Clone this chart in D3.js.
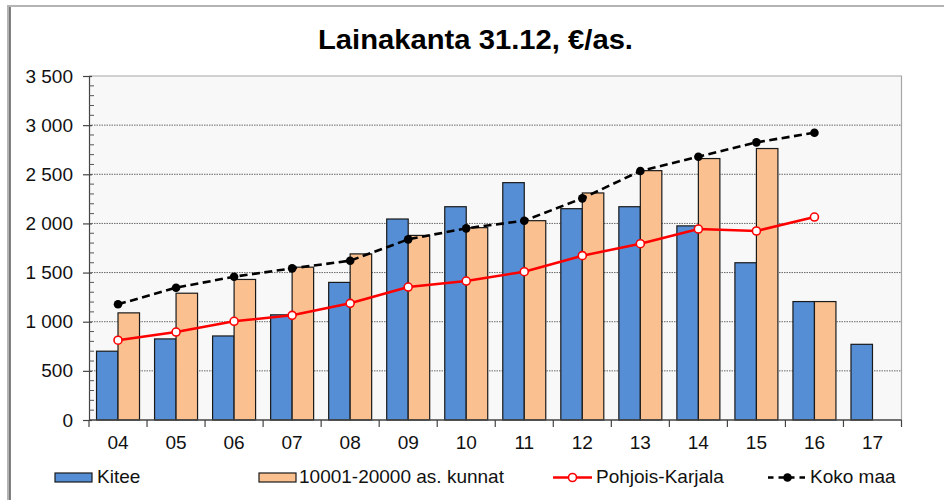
<!DOCTYPE html>
<html>
<head>
<meta charset="utf-8">
<script src="https://cdn.jsdelivr.net/npm/d3@7"></script>
<style>
  html, body { margin: 0; padding: 0; background: #ffffff; }
  svg { display: block; font-family: "Liberation Sans", Arial, sans-serif; }
</style>
</head>
<body>
<svg id="chart" width="944" height="500"></svg>
<script>
const years = ["04","05","06","07","08","09","10","11","12","13","14","15","16","17"];
const kitee = [700, 825, 855, 1070, 1400, 2045, 2170, 2415, 2150, 2170, 1975, 1600, 1205, 770];
const kunnat = [1090, 1290, 1430, 1555, 1690, 1878, 1957, 2028, 2310, 2537, 2660, 2762, 1205, null];
const pohjoisKarjala = [812, 895, 1004, 1065, 1187, 1353, 1414, 1509, 1672, 1794, 1943, 1923, 2065, null];
const kokoMaa = [1177, 1346, 1458, 1543, 1621, 1838, 1950, 2028, 2255, 2533, 2679, 2825, 2923, null];
const yTicks = [0, 500, 1000, 1500, 2000, 2500, 3000, 3500];
const seriesNames = ["Kitee", "10001-20000 as. kunnat", "Pohjois-Karjala", "Koko maa"];
const title = "Lainakanta 31.12, €/as.";

(function () {
const svg = d3.select("#chart");
const W = 944, H = 500;
const pL = 89, pR = 901.5, pT = 76, pB = 420;
const FS = 19;

const x = d3.scaleBand().domain(years).range([pL, pR]).padding(0);
const sub = d3.scaleBand().domain(["a","b"]).range([0, x.bandwidth()]).paddingInner(0).paddingOuter(0.35);
const y = d3.scaleLinear().domain([0, 3500]).range([pB, pT]);

const fmt = v => d3.format(",")(v).replace(/,/g, " ");

// outer frame
svg.append("rect").attr("x", 7).attr("y", 5).attr("width", W - 7).attr("height", 2).attr("fill", "#b4b4b4");
svg.append("rect").attr("x", 7).attr("y", 5).attr("width", 2.5).attr("height", H - 5).attr("fill", "#b4b4b4");
svg.append("line").attr("x1", 10).attr("x2", 10).attr("y1", 7).attr("y2", H).attr("stroke", "#333").attr("stroke-width", 1.2);

// title
svg.append("text").attr("x", 475.5).attr("y", 48.5).attr("text-anchor", "middle")
  .attr("font-size", 27).attr("font-weight", "bold").attr("fill", "#000")
  .attr("textLength", 315).attr("lengthAdjust", "spacingAndGlyphs")
  .text(title);

// plot background
svg.append("rect").attr("x", pL).attr("y", pT).attr("width", pR - pL).attr("height", pB - pT)
  .attr("fill", "#f8f8f8");
svg.append("path").attr("d", `M${pL},${pT}H${pR}V${pB}`).attr("fill", "none")
  .attr("stroke", "#a6a6a6").attr("stroke-width", 1.2);

// gridlines
svg.append("g").selectAll("line").data(yTicks.filter(d => d > 0 && d < 3500)).join("line")
  .attr("x1", pL).attr("x2", pR).attr("y1", d => y(d)).attr("y2", d => y(d))
  .attr("stroke", "#444").attr("stroke-width", 0.8).attr("stroke-dasharray", "1.5,1");

// bars
const g = svg.append("g");
years.forEach((yr, i) => {
  const vals = [["a", kitee[i], "#558ed5"], ["b", kunnat[i], "#fac090"]];
  vals.forEach(([k, v, c]) => {
    if (v == null) return;
    g.append("rect").attr("x", x(yr) + sub(k)).attr("y", y(v))
      .attr("width", sub.bandwidth()).attr("height", y(0) - y(v))
      .attr("fill", c).attr("stroke", "#1a1a1a").attr("stroke-width", 1.2);
  });
});

// y axis
const yAxis = d3.axisLeft(y).tickValues(yTicks).tickSize(6).tickPadding(10).tickFormat(fmt);
const ya = svg.append("g").attr("transform", `translate(${pL},0)`).call(yAxis);
ya.select(".domain").attr("stroke", "#444").attr("stroke-width", 1.2);
ya.selectAll(".tick line").attr("stroke", "#444").attr("stroke-width", 1.2).attr("x2", -6).attr("x1", 3);
ya.selectAll(".tick text").attr("font-size", FS).attr("fill", "#111").attr("font-family", "Liberation Sans, Arial, sans-serif");
// minor ticks
svg.append("g").selectAll("line").data(d3.range(0, 3501, 100).filter(d => d % 500 !== 0)).join("line")
  .attr("x1", pL).attr("x2", pL + 5).attr("y1", d => y(d)).attr("y2", d => y(d))
  .attr("stroke", "#555").attr("stroke-width", 1);

// x axis
svg.append("line").attr("x1", pL).attr("x2", pR).attr("y1", pB).attr("y2", pB)
  .attr("stroke", "#444").attr("stroke-width", 1.4);
const bounds = years.map(yr => x(yr)).concat([pR]);
svg.append("g").selectAll("line").data(bounds).join("line")
  .attr("x1", d => d).attr("x2", d => d).attr("y1", pB).attr("y2", pB + 7)
  .attr("stroke", "#444").attr("stroke-width", 1.2);
svg.append("g").selectAll("text").data(years).join("text")
  .attr("x", d => x(d) + x.bandwidth() / 2).attr("y", 449).attr("text-anchor", "middle")
  .attr("font-size", FS).attr("fill", "#111").text(d => d);

// lines
const cx = (d, i) => x(years[i]) + x.bandwidth() / 2;
const lineGen = d3.line().defined(d => d != null).x((d, i) => cx(d, i)).y(d => y(d));

svg.append("path").datum(kokoMaa).attr("d", lineGen).attr("fill", "none")
  .attr("stroke", "#000").attr("stroke-width", 2.6).attr("stroke-dasharray", "8,4.5");
svg.append("g").selectAll("circle").data(kokoMaa.map((v, i) => [v, i]).filter(d => d[0] != null)).join("circle")
  .attr("cx", d => cx(d[0], d[1])).attr("cy", d => y(d[0])).attr("r", 4.3).attr("fill", "#000");

svg.append("path").datum(pohjoisKarjala).attr("d", lineGen).attr("fill", "none")
  .attr("stroke", "#ff0000").attr("stroke-width", 2.6);
svg.append("g").selectAll("circle").data(pohjoisKarjala.map((v, i) => [v, i]).filter(d => d[0] != null)).join("circle")
  .attr("cx", d => cx(d[0], d[1])).attr("cy", d => y(d[0])).attr("r", 4)
  .attr("fill", "#fff").attr("stroke", "#ff0000").attr("stroke-width", 1.6);

// legend
const ly = 477.5, lty = 482.5;
const lg = svg.append("g");
lg.append("rect").attr("x", 55).attr("y", 473).attr("width", 37).attr("height", 9)
  .attr("fill", "#558ed5").attr("stroke", "#1a1a1a").attr("stroke-width", 1.2);
lg.append("text").attr("x", 97).attr("y", lty).attr("font-size", FS).attr("fill", "#111").text(seriesNames[0]);
lg.append("rect").attr("x", 259).attr("y", 473).attr("width", 37).attr("height", 9)
  .attr("fill", "#fac090").attr("stroke", "#1a1a1a").attr("stroke-width", 1.2);
lg.append("text").attr("x", 299).attr("y", lty).attr("font-size", FS).attr("fill", "#111").text(seriesNames[1]);
lg.append("line").attr("x1", 553).attr("x2", 592).attr("y1", ly).attr("y2", ly)
  .attr("stroke", "#ff0000").attr("stroke-width", 2.6);
lg.append("circle").attr("cx", 572.5).attr("cy", ly).attr("r", 4)
  .attr("fill", "#fff").attr("stroke", "#ff0000").attr("stroke-width", 1.6);
lg.append("text").attr("x", 596).attr("y", lty).attr("font-size", FS).attr("fill", "#111").text(seriesNames[2]);
lg.append("line").attr("x1", 768).attr("x2", 807).attr("y1", ly).attr("y2", ly)
  .attr("stroke", "#000").attr("stroke-width", 2.6).attr("stroke-dasharray", "5.5,5");
lg.append("circle").attr("cx", 787.5).attr("cy", ly).attr("r", 4.3).attr("fill", "#000");
lg.append("text").attr("x", 810).attr("y", lty).attr("font-size", FS).attr("fill", "#111").text(seriesNames[3]);
})();
</script>
</body>
</html>
